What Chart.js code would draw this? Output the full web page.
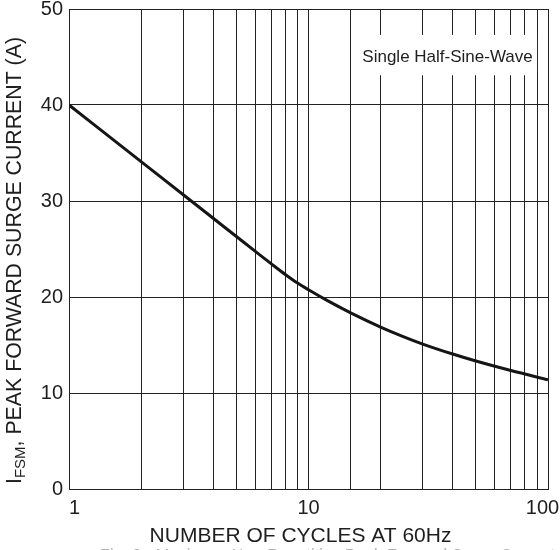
<!DOCTYPE html>
<html>
<head>
<meta charset="utf-8">
<script src="https://cdn.jsdelivr.net/npm/chart.js@4"></script>
<style>
  html, body { margin: 0; padding: 0; background: #fff; }
  #wrap { width: 560px; height: 550px; }
</style>
</head>
<body>
<div id="wrap"><canvas id="c" width="560" height="550"></canvas></div>
<script>
// ---- data ----
const cycles = [1, 2, 3, 4, 5, 6, 7, 8, 9, 10, 12, 15, 20, 25, 30, 40, 50, 70, 100];
const surgeCurrent = [40, 34.1, 30.65, 28.2, 26.3, 24.75, 23.45, 22.35, 21.45, 20.75, 19.62, 18.35, 16.87, 15.85, 15.1, 14.06, 13.33, 12.34, 11.38];
const xTickLabels = { 1: '  1', 10: '10', 100: '100  ' };
const yTicks = [0, 10, 20, 30, 40, 50];
const xTitle = 'NUMBER OF CYCLES AT 60Hz';
const yTitleMain = 'I';
const yTitleSub = 'FSM';
const yTitleRest = ', PEAK FORWARD SURGE CURRENT (A)';
const noteText = 'Single Half-Sine-Wave';
const captionText = 'Fig. 2 - Maximum Non-Repetitive Peak Forward Surge Current';

const FONT = '"Liberation Sans", Arial, Helvetica, sans-serif';
const INK = '#1e1e1e';
const GRID = '#222222';

const textPlugin = {
  id: 'texts',
  afterDraw(chart) {
    const ctx = chart.ctx;
    const xs = chart.scales.x, ys = chart.scales.y;
    ctx.save();
    // annotation box
    const bx0 = xs.getPixelForValue(16.1), bx1 = xs.getPixelForValue(90);
    const by0 = ys.getPixelForValue(47.3), by1 = ys.getPixelForValue(43.1);
    ctx.fillStyle = '#fff';
    ctx.fillRect(bx0, by0, bx1 - bx0, by1 - by0);
    ctx.fillStyle = INK;
    ctx.font = '17px ' + FONT;
    ctx.textAlign = 'center';
    ctx.textBaseline = 'alphabetic';
    ctx.fillText(noteText, (bx0 + bx1) / 2, ys.getPixelForValue(44.5));

    // x title
    ctx.font = '21px ' + FONT;
    ctx.textAlign = 'center';
    ctx.fillText(xTitle, 300.5, 541.5);

    // y title (rotated, with subscript)
    ctx.save();
    ctx.translate(20.5, 484);
    ctx.rotate(-Math.PI / 2);
    ctx.textAlign = 'left';
    ctx.font = '21.3px ' + FONT;
    let px = 0;
    ctx.fillText(yTitleMain, px, 0);
    px += ctx.measureText(yTitleMain).width;
    ctx.font = '15px ' + FONT;
    ctx.fillText(yTitleSub, px, 4);
    px += ctx.measureText(yTitleSub).width;
    ctx.font = '21.3px ' + FONT;
    ctx.fillText(yTitleRest, px, 0);
    ctx.restore();

    // cropped caption at very bottom
    ctx.fillStyle = '#b4b4b4';
    ctx.font = '20px ' + FONT;
    ctx.textAlign = 'left';
    ctx.textBaseline = 'top';
    ctx.fillText(captionText, 100, 547.5, 455);
    ctx.restore();
  }
};

new Chart(document.getElementById('c'), {
  type: 'line',
  data: {
    datasets: [{
      data: cycles.map((c, i) => ({ x: c, y: surgeCurrent[i] })),
      borderColor: '#151515',
      borderWidth: 3,
      pointRadius: 0,
      fill: false,
      cubicInterpolationMode: 'monotone'
    }]
  },
  options: {
    responsive: false,
    animation: false,
    events: [],
    layout: { padding: { top: 9, right: 12, left: 0, bottom: 0 } },
    plugins: { legend: { display: false }, tooltip: { enabled: false }, title: { display: false } },
    scales: {
      x: {
        type: 'logarithmic',
        min: 1, max: 100,
        position: 'bottom',
        grid: { color: GRID, lineWidth: 1, drawTicks: false },
        border: { display: true, color: GRID, width: 1 },
        ticks: {
          autoSkip: false, maxRotation: 0, minRotation: 0,
          padding: 7,
          color: INK,
          font: { family: FONT, size: 20 },
          callback: (v) => (xTickLabels[v] !== undefined ? xTickLabels[v] : '')
        },
        afterFit: (s) => { s.height = 61; s.paddingLeft = 0; s.paddingRight = 0; }
      },
      y: {
        type: 'linear',
        min: 0, max: 50,
        grid: { color: GRID, lineWidth: 1, drawTicks: false },
        border: { display: true, color: GRID, width: 1 },
        afterBuildTicks: (s) => { s.ticks = yTicks.map(v => ({ value: v })); },
        ticks: {
          padding: 6,
          color: INK,
          font: { family: FONT, size: 20 },
          callback: (v) => String(v)
        },
        afterFit: (s) => { s.width = 69; s.paddingTop = 0; s.paddingBottom = 0; }
      }
    }
  },
  plugins: [textPlugin]
});
</script>
</body>
</html>
